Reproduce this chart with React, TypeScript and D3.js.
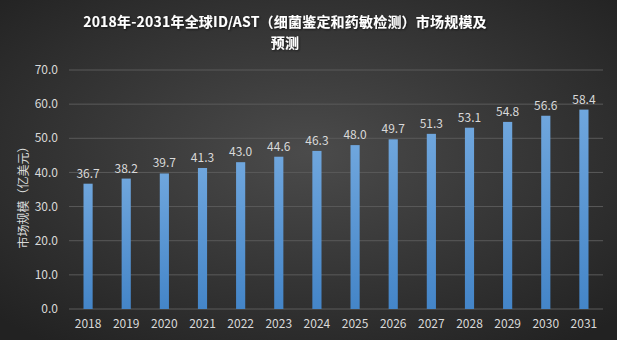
import React from "react";
import * as d3 from "d3";

const years = ["2018","2019","2020","2021","2022","2023","2024","2025","2026","2027","2028","2029","2030","2031"];
const values = [36.7,38.2,39.7,41.3,43.0,44.6,46.3,48.0,49.7,51.3,53.1,54.8,56.6,58.4];
const yTicks = [0,10,20,30,40,50,60,70];
const titleLines = ["2018年-2031年全球ID/AST（细菌鉴定和药敏检测）市场规模及", "预测"];
const yLabel = "市场规模（亿美元）";

const W = 617, H = 340;
const left = 69, right = 603, top = 70, bottom = 309;
const font = "'Noto Sans CJK SC', 'Noto Sans', sans-serif";

export default function App() {
  const x = d3.scaleBand().domain(years).range([left, right]).paddingInner(0.76).paddingOuter(0.38);
  const y = d3.scaleLinear().domain([0, 70]).range([bottom, top]);
  return (
    <svg width={W} height={H} style={{ position: "absolute", left: 0, top: 0 }}>
      <defs>
        <radialGradient id="bg" cx="50%" cy="45%" r="70%">
          <stop offset="0%" stopColor="#4b4b4b" />
          <stop offset="100%" stopColor="#222222" />
        </radialGradient>
        <linearGradient id="bar" x1="0" y1="0" x2="0" y2="1">
          <stop offset="0%" stopColor="#6fa6dd" />
          <stop offset="100%" stopColor="#4485c8" />
        </linearGradient>
        <filter id="sh" x="-10%" y="-10%" width="120%" height="130%">
          <feDropShadow dx="1" dy="1" stdDeviation="0.8" floodColor="#000" floodOpacity="0.6" />
        </filter>
      </defs>
      <rect x={0} y={0} width={W} height={H} fill="url(#bg)" />
      {yTicks.map((t) => (
        <g key={t}>
          <line x1={left} x2={right} y1={y(t)} y2={y(t)} stroke="#5a5a5a" strokeWidth={1} />
          <text x={58} y={y(t)} dy="0.35em" textAnchor="end" fontSize={12} fill="#d9d9d9" fontFamily={font}>
            {t.toFixed(1)}
          </text>
        </g>
      ))}
      {years.map((yr, i) => (
        <g key={yr}>
          <rect x={x(yr)} y={y(values[i])} width={x.bandwidth()} height={y(0) - y(values[i])} fill="url(#bar)" />
          <text x={(x(yr) as number) + x.bandwidth() / 2} y={y(values[i]) - 6} textAnchor="middle" fontSize={12} fill="#d9d9d9" fontFamily={font}>
            {values[i].toFixed(1)}
          </text>
          <text x={(x(yr) as number) + x.bandwidth() / 2} y={328} textAnchor="middle" fontSize={12} fill="#d9d9d9" fontFamily={font}>
            {yr}
          </text>
        </g>
      ))}
      <text transform={`translate(28,${(top + bottom) / 2 + 5}) rotate(-90)`} textAnchor="middle" fontSize={12} fill="#d9d9d9" fontFamily={font}>
        {yLabel}
      </text>
      {titleLines.map((l, i) => (
        <text key={i} x={285} y={27 + i * 21} textAnchor="middle" fontSize={14} fontWeight="bold" letterSpacing={0.2} fill="#ffffff" fontFamily={font} filter="url(#sh)">
          {l}
        </text>
      ))}
    </svg>
  );
}
